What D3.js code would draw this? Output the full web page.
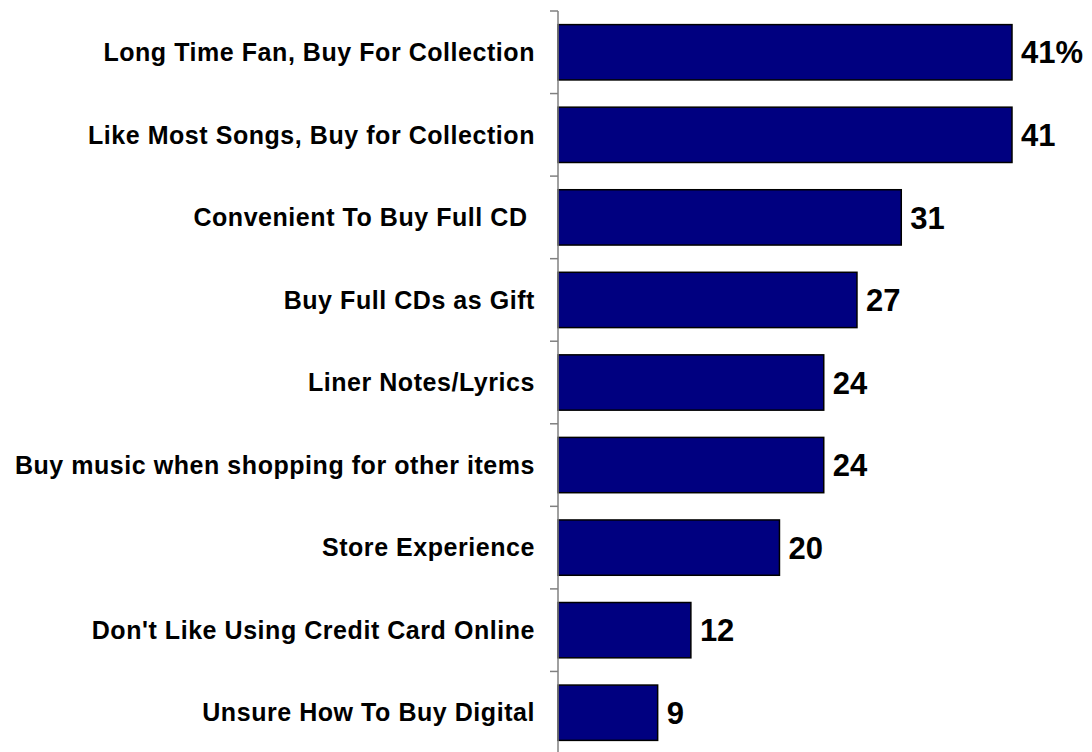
<!DOCTYPE html>
<html>
<head>
<meta charset="utf-8">
<script src="https://cdn.jsdelivr.net/npm/d3@7"></script>
<style>
  html, body { margin: 0; padding: 0; background: #fff; }
  svg { display: block; }
  text { white-space: pre; }
</style>
</head>
<body>
<svg id="chart" width="1092" height="752"></svg>
<script>
// Reasons for buying music in stores, percent of respondents
const categories = [
  "Long Time Fan, Buy For Collection",
  "Like Most Songs, Buy for Collection",
  "Convenient To Buy Full CD ",
  "Buy Full CDs as Gift",
  "Liner Notes/Lyrics",
  "Buy music when shopping for other items",
  "Store Experience",
  "Don't Like Using Credit Card Online",
  "Unsure How To Buy Digital"
];
const values = [41, 41, 31, 27, 24, 24, 20, 12, 9];
const valueLabels = ["41%", "41", "31", "27", "24", "24", "20", "12", "9"];

const svg = d3.select("#chart");
const axisX = 558;
const plotTop = 11, plotBottom = 754;

const x = d3.scaleLinear().domain([0, 41]).range([axisX, 1012]);
const y = d3.scaleBand().domain(categories).range([plotTop, plotBottom]).paddingInner(0.33).paddingOuter(0.165);

// Bars
svg.selectAll("rect.bar")
  .data(values)
  .join("rect")
  .attr("class", "bar")
  .attr("x", x(0))
  .attr("y", (d, i) => y(categories[i]))
  .attr("width", d => x(d) - x(0))
  .attr("height", y.bandwidth())
  .attr("fill", "#000080")
  .attr("stroke", "#000")
  .attr("stroke-width", 1.5);

// Category axis with ticks between bands
const tickPos = d3.range(categories.length + 1).map(i => plotTop + i * y.step());
svg.append("line")
  .attr("x1", axisX).attr("x2", axisX)
  .attr("y1", plotTop).attr("y2", plotBottom)
  .attr("stroke", "#808080").attr("stroke-width", 1.5);
svg.selectAll("line.tick")
  .data(tickPos)
  .join("line")
  .attr("class", "tick")
  .attr("x1", axisX - 8).attr("x2", axisX)
  .attr("y1", d => d).attr("y2", d => d)
  .attr("stroke", "#808080").attr("stroke-width", 1.5);

// Category labels
svg.selectAll("text.cat")
  .data(categories)
  .join("text")
  .attr("class", "cat")
  .attr("x", 535)
  .attr("y", d => y(d) + y.bandwidth() / 2)
  .attr("dy", "0.35em")
  .attr("text-anchor", "end")
  .attr("font-family", "Liberation Sans, Arial, sans-serif")
  .attr("font-weight", "bold")
  .attr("font-size", 25)
  .attr("letter-spacing", 0.55)
  .attr("fill", "#000")
  .text(d => d);

// Value labels
svg.selectAll("text.val")
  .data(values)
  .join("text")
  .attr("class", "val")
  .attr("x", d => x(d) + 9)
  .attr("y", (d, i) => y(categories[i]) + y.bandwidth() / 2)
  .attr("dy", "0.36em")
  .attr("font-family", "Liberation Sans, Arial, sans-serif")
  .attr("font-weight", "bold")
  .attr("font-size", 31)
  .attr("fill", "#000")
  .text((d, i) => valueLabels[i]);
</script>
</body>
</html>
